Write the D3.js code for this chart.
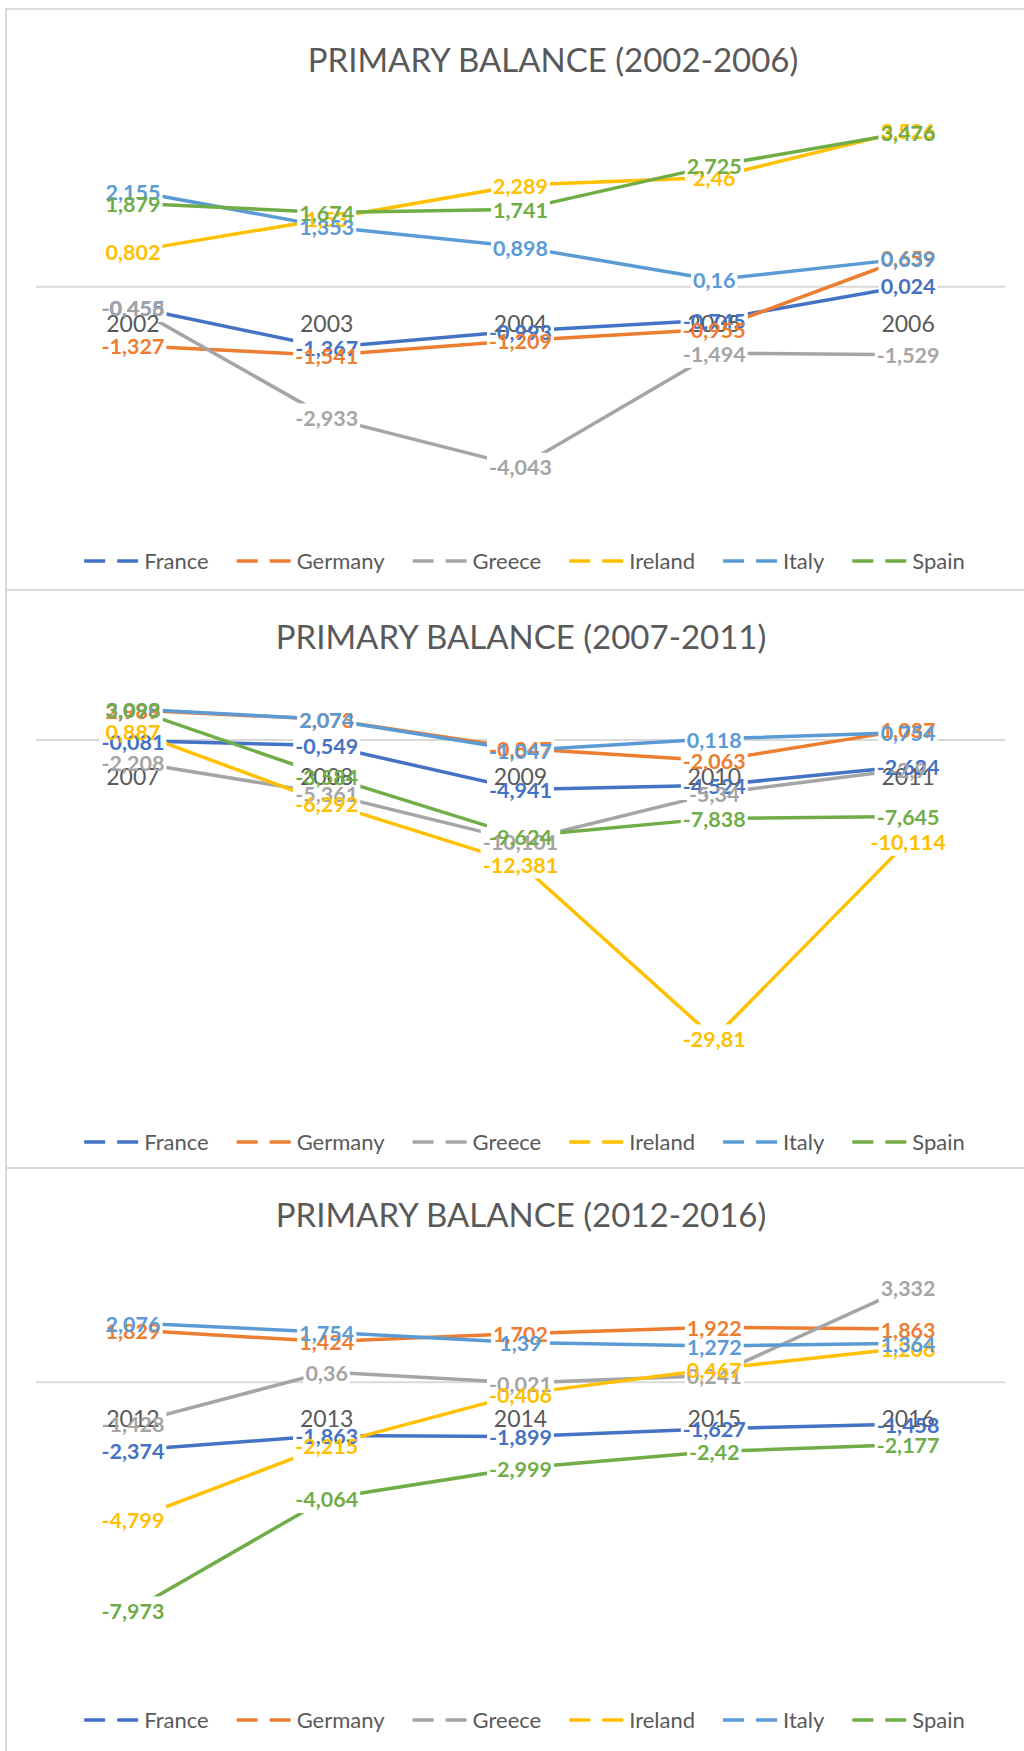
<!DOCTYPE html>
<html>
<head>
<meta charset="utf-8">
<script src="https://cdn.jsdelivr.net/npm/d3@7"></script>
<style>
body { margin: 0; background: #fff; }
svg { display: block; font-family: Lato, 'Open Sans', sans-serif; }
</style>
</head>
<body>
<script>
// series names and Excel default colours
const countries = ['France', 'Germany', 'Greece', 'Ireland', 'Italy', 'Spain'];
const colors = ['#4472C4', '#ED7D31', '#A5A5A5', '#FFC000', '#5B9BD5', '#70AD47'];

// 2002-2006
const years1 = ['2002', '2003', '2004', '2005', '2006'];
const france1 = [-0.455, -1.367, -0.993, -0.745, 0.024];
const germany1 = [-1.327, -1.541, -1.209, -0.955, 0.659];
const greece1 = [-0.458, -2.933, -4.043, -1.494, -1.529];
const ireland1 = [0.802, 1.53, 2.289, 2.46, 3.526];
const italy1 = [2.155, 1.353, 0.898, 0.16, 0.639];
const spain1 = [1.879, 1.674, 1.741, 2.725, 3.476];

// 2007-2011
const years2 = ['2007', '2008', '2009', '2010', '2011'];
const france2 = [-0.081, -0.549, -4.941, -4.524, -2.624];
const germany2 = [2.989, 2.073, -0.847, -2.063, 1.037];
const greece2 = [-2.208, -5.361, -10.101, -5.34, -2.9];
const ireland2 = [0.887, -6.292, -12.381, -29.81, -10.114];
const italy2 = [3.098, 2.074, -1.047, 0.118, 0.754];
const spain2 = [3.093, -3.584, -9.624, -7.838, -7.645];

// 2012-2016
const years3 = ['2012', '2013', '2014', '2015', '2016'];
const france3 = [-2.374, -1.863, -1.899, -1.627, -1.458];
const germany3 = [1.829, 1.424, 1.702, 1.922, 1.863];
const greece3 = [-1.428, 0.36, -0.021, 0.241, 3.332];
const ireland3 = [-4.799, -2.215, -0.406, 0.467, 1.206];
const italy3 = [2.076, 1.754, 1.39, 1.272, 1.364];
const spain3 = [-7.973, -4.064, -2.999, -2.42, -2.177];

const panels = [
    {title: 'PRIMARY BALANCE (2002-2006)', years: years1, domain: [-5, 4],
        series: [france1, germany1, greece1, ireland1, italy1, spain1],
        top: 9, height: 581, titleX: 553, titleY: 63},
    {title: 'PRIMARY BALANCE (2007-2011)', years: years2, domain: [-35, 5],
        series: [france2, germany2, greece2, ireland2, italy2, spain2],
        top: 590, height: 578, titleX: 521, titleY: 58.5},
    {title: 'PRIMARY BALANCE (2012-2016)', years: years3, domain: [-10, 4],
        series: [france3, germany3, greece3, ireland3, italy3, spain3],
        top: 1168, height: 700, titleX: 521, titleY: 59}
];

const W = 1024, H = 1751;
const plot = {left: 36, right: 1005, top: 100, height: 400};
const labelSize = 21.5, capH = labelSize * 0.7165;
const fmt = v => String(v).replace('.', ',');

const svg = d3.select('body').append('svg')
    .attr('width', W)
    .attr('height', H);

panels.forEach(function(p) {
    const g = svg.append('g')
        .attr('transform', 'translate(0,' + p.top + ')');

    g.append('rect')
        .attr('x', 6)
        .attr('y', 0)
        .attr('width', 1200)
        .attr('height', p.height)
        .attr('fill', 'none')
        .attr('stroke', '#d9d9d9')
        .attr('stroke-width', 2);

    g.append('text')
        .attr('x', p.titleX)
        .attr('y', p.titleY)
        .attr('text-anchor', 'middle')
        .attr('font-size', 33)
        .attr('fill', '#595959')
        .text(p.title);

    const x = d3.scalePoint()
        .domain(p.years)
        .range([plot.left, plot.right])
        .padding(0.5);
    const y = d3.scaleLinear()
        .domain(p.domain)
        .range([plot.top + plot.height, plot.top]);

    // horizontal axis line at zero
    g.append('line')
        .attr('x1', plot.left)
        .attr('x2', plot.right)
        .attr('y1', y(0))
        .attr('y2', y(0))
        .attr('stroke', '#d9d9d9')
        .attr('stroke-width', 2);

    const rows = p.series.map(function(vals, i) {
        return {key: countries[i], color: colors[i],
            pts: vals.map(function(v, j) { return {year: p.years[j], v: v}; })};
    });

    const line = d3.line()
        .x(d => x(d.year))
        .y(d => y(d.v));

    g.selectAll('.series')
        .data(rows)
        .enter().append('path')
        .attr('class', 'series')
        .attr('d', d => line(d.pts))
        .attr('fill', 'none')
        .attr('stroke', d => d.color)
        .attr('stroke-width', 3.5)
        .attr('stroke-linejoin', 'round');

    const boxes = g.append('g');

    // category labels sit just under the zero line
    g.selectAll('.cat')
        .data(p.years)
        .enter().append('text')
        .attr('class', 'cat')
        .attr('x', d => x(d))
        .attr('y', y(0) + 45)
        .attr('text-anchor', 'middle')
        .attr('font-size', 23)
        .attr('fill', '#595959')
        .text(d => d);

    const labels = g.append('g');
    rows.forEach(function(r) {
        r.pts.forEach(function(d) {
            const base = y(d.v) + capH / 2 + 1;
            const t = labels.append('text')
                .attr('x', x(d.year))
                .attr('y', base)
                .attr('text-anchor', 'middle')
                .attr('font-size', labelSize)
                .attr('font-weight', 700)
                .attr('fill', r.color)
                .text(fmt(d.v));
            const w = t.node().getComputedTextLength();
            boxes.append('rect')
                .attr('x', x(d.year) - w / 2 - 2)
                .attr('y', base - capH - 7)
                .attr('width', w + 4)
                .attr('height', capH + 13)
                .attr('fill', '#fff');
        });
    });

    // legend, centred under the plot
    const leg = g.append('g')
        .attr('transform', 'translate(0,552)');
    let pos = 0;
    const items = countries.map(function(c, i) {
        const it = leg.append('g');
        it.append('line')
            .attr('x1', 0)
            .attr('x2', 54)
            .attr('stroke', colors[i])
            .attr('stroke-width', 3.5)
            .attr('stroke-dasharray', '21,12');
        const t = it.append('text')
            .attr('x', 60)
            .attr('y', 7.7)
            .attr('font-size', 22)
            .attr('fill', '#595959')
            .text(c);
        const w = 60 + t.node().getComputedTextLength();
        const start = pos;
        pos += w + 28;
        return {node: it, start: start};
    });
    const total = pos - 28;
    const x0 = 524.5 - total / 2;
    items.forEach(function(d) {
        d.node.attr('transform', 'translate(' + (x0 + d.start) + ',0)');
    });
});
</script>
</body>
</html>
